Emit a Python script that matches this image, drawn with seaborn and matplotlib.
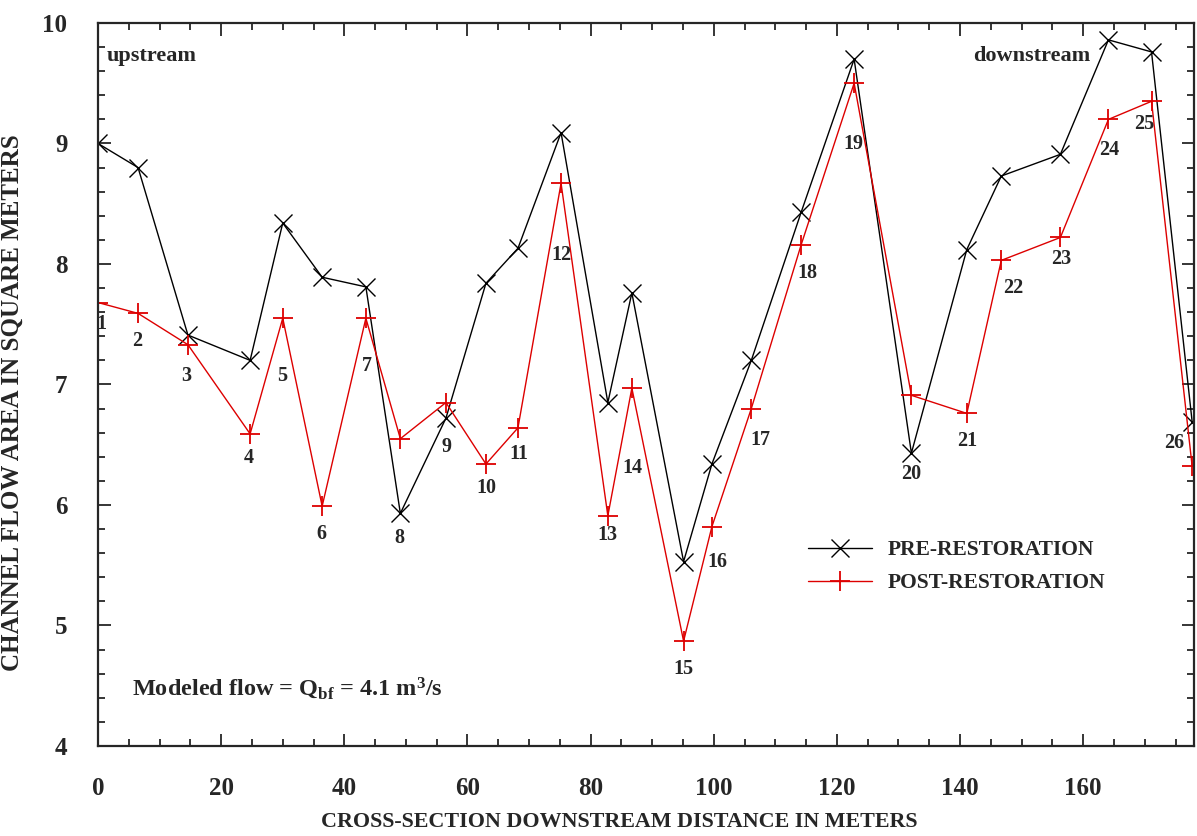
import numpy as np
import pandas as pd
import matplotlib
matplotlib.use("Agg")
import matplotlib.pyplot as plt
from matplotlib.ticker import MultipleLocator
import seaborn as sns

# cross-section distances (m) and channel flow areas (m^2)
distance = [0.0, 6.5, 14.6, 24.7, 30.0, 36.4, 43.5, 49.1, 56.5, 63.0, 68.2, 75.2, 82.8,
            86.7, 95.1, 99.7, 106.1, 114.2, 122.8, 132.1, 141.1, 146.7, 156.3, 164.1,
            171.1, 177.7]
pre_area = [9.00, 8.80, 7.41, 7.20, 8.34, 7.89, 7.81, 5.93, 6.72, 7.84, 8.13, 9.09, 6.85,
            7.76, 5.53, 6.34, 7.20, 8.43, 9.70, 6.43, 8.12, 8.73, 8.91, 9.86, 9.76, 6.69]
post_area = [7.68, 7.59, 7.33, 6.59, 7.55, 5.99, 7.55, 6.55, 6.85, 6.34, 6.64, 8.67, 5.91,
             6.97, 4.87, 5.82, 6.80, 8.16, 9.50, 6.91, 6.76, 8.03, 8.22, 9.20, 9.35, 6.32]
section_id = list(range(1, 27))

# label offsets (pixels) from the post-restoration point
lab_dx = [3, -1, -2, -1, -1, -1, 1, -1, 1, 0, 1, 0, 0, 1, 0, 5, 9, 6, -1, 0, 0, 12, 1, 1, -7, -18]
lab_dy = [-21, -28, -31, -24, -58, -28, -48, -99, -44, -24, -26, -72, -19, -80, -28, -35,
          -31, -28, -61, -79, -28, -28, -22, -31, -23, 23]

df = pd.DataFrame({"dist": distance, "pre": pre_area, "post": post_area})

sns.set_style("ticks")
plt.rcParams["font.family"] = ["Liberation Serif", "DejaVu Serif"]
plt.rcParams["font.weight"] = "bold"
plt.rcParams["mathtext.fontset"] = "custom"
plt.rcParams["mathtext.rm"] = "Liberation Serif:bold"
plt.rcParams["mathtext.it"] = "Liberation Serif:bold"
plt.rcParams["mathtext.bf"] = "Liberation Serif:bold"

red = "#dd0000"

fig = plt.figure(figsize=(11.97, 8.36), dpi=100)
ax = fig.add_axes([0.0819, 0.1077, 0.9156, 0.8648])

sns.lineplot(data=df, x="dist", y="pre", ax=ax, color="black", lw=1.0,
             marker="x", markersize=13, markeredgewidth=1.0, markeredgecolor="black",
             label="PRE-RESTORATION")
sns.lineplot(data=df, x="dist", y="post", ax=ax, color=red, lw=1.0,
             marker="+", markersize=15, markeredgewidth=1.3, markeredgecolor=red,
             label="POST-RESTORATION")

for i in range(len(section_id)):
    ax.annotate(str(section_id[i]), (distance[i], post_area[i]),
                xytext=(lab_dx[i], lab_dy[i]), textcoords="offset pixels",
                ha="center", va="center", fontsize=14.5, fontweight="bold")

ax.set_xlim(0, 178)
ax.set_ylim(4, 10)
ax.xaxis.set_major_locator(MultipleLocator(20))
ax.xaxis.set_minor_locator(MultipleLocator(5))
ax.yaxis.set_major_locator(MultipleLocator(1))
ax.yaxis.set_minor_locator(MultipleLocator(0.2))
ax.tick_params(which="both", direction="in", top=True, right=True, width=1.3)
ax.tick_params(which="major", length=9, labelsize=18, pad=22)
ax.tick_params(which="minor", length=5)
for lab in ax.get_xticklabels() + ax.get_yticklabels():
    lab.set_fontweight("bold")
for s in ax.spines.values():
    s.set_linewidth(1.6)
    s.set_visible(True)

ax.set_xlabel("CROSS-SECTION DOWNSTREAM DISTANCE IN METERS", fontsize=15.8,
              fontweight="bold")
ax.xaxis.set_label_coords(0.476, -0.092)
ax.set_ylabel("CHANNEL FLOW AREA IN SQUARE METERS", fontsize=18,
              fontweight="bold")
ax.yaxis.set_label_coords(-0.068, 0.475)

ax.text(0.008, 0.955, "upstream", transform=ax.transAxes, fontsize=16, fontweight="bold",
        ha="left", va="center")
ax.text(0.905, 0.955, "downstream", transform=ax.transAxes, fontsize=16, fontweight="bold",
        ha="right", va="center")
ax.text(0.031, 0.08, r"Modeled flow = Q$_{\rm bf}$ = 4.1 m$^{\rm 3}$/s", transform=ax.transAxes,
        fontsize=17.5, fontweight="bold", ha="left", va="center")

leg = ax.legend(loc="center left", bbox_to_anchor=(0.63, 0.248), frameon=False,
                fontsize=15.5, handlelength=3.0, handletextpad=0.7, labelspacing=0.6)
for t in leg.get_texts():
    t.set_fontweight("bold")

fig.savefig("out.png", dpi=100)
